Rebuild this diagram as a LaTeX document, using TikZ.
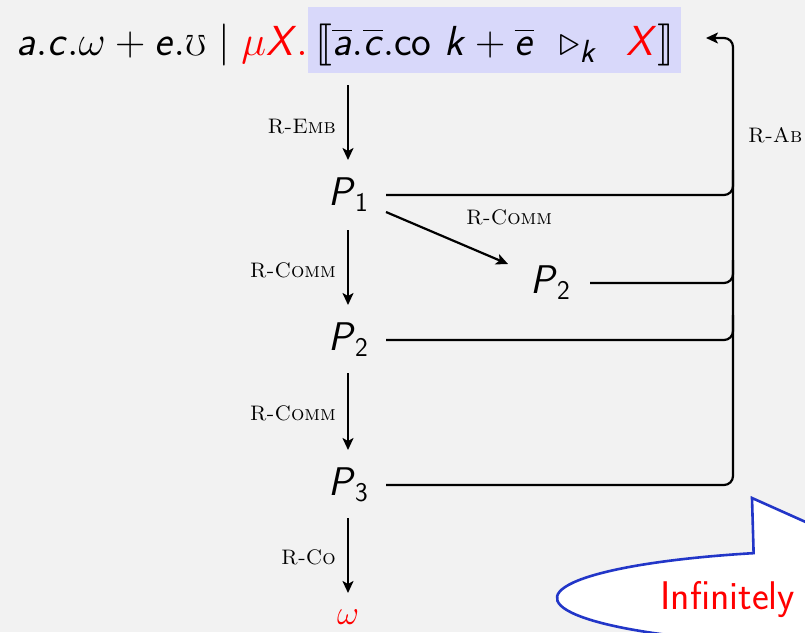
\RequirePackage{fix-cm}
\documentclass[tikz,border=0pt]{standalone}
\usepackage{amssymb}
\usepackage{stmaryrd}
\DeclareFontFamily{U}{stmry}{}
\DeclareFontShape{U}{stmry}{m}{n}{<-> stmary10}{}
\usetikzlibrary{arrows.meta,shapes.callouts}
\definecolor{bgc}{HTML}{F2F2F2}
\definecolor{hlc}{HTML}{D8D8FA}
\definecolor{cob}{HTML}{2236C8}
\newcommand{\si}[1]{\textsf{\textit{#1}}}
\newcommand{\pn}[1]{\si{P}\raisebox{-6pt}{\fontsize{27}{30}\selectfont\sffamily #1}}
\tikzset{
  proc/.style={font=\fontsize{40}{48}\selectfont, inner sep=2pt},
  rule/.style={font=\fontsize{21}{25}\selectfont, inner sep=0pt},
  arr/.style={line width=2.2pt, -{Stealth[length=12pt,width=11pt,inset=3pt]}},
  ln/.style={line width=2.2pt, rounded corners=9pt},
}
\begin{document}
\begin{tikzpicture}[x=1pt,y=-1pt]
\useasboundingbox (0,0) rectangle (805,632);
\fill[bgc] (0,0) rectangle (805,632);
\clip (0,0) rectangle (805,632);
% top formula
\node[anchor=base east, inner sep=0pt, font=\fontsize{42}{48}\selectfont] (lhs) at (308,55)
  {$\si{a}.\si{c}.\omega+\si{e}.{\scriptstyle\mho}\mid{\color{red}\mu\si{X}.}$};
\node[anchor=base west, fill=hlc, inner xsep=7pt, text depth=15pt, text height=45pt, font=\fontsize{42}{48}\selectfont] (rhs) at (lhs.base east)
  {$\llbracket\overline{\si{a}}.\overline{\si{c}}.\textsf{co}\ \si{k}+\overline{\si{e}}\ \ \mathord{\triangleright}\mbox{\raisebox{-7pt}{\fontsize{32}{34}\selectfont\sffamily\itshape k}}\ \ \,{\color{red}\si{X}}\rrbracket$};
% process nodes
\node[proc] (p1) at (348,195) {\pn{1}};
\node[proc] (p2) at (348,340) {\pn{2}};
\node[proc] (p3) at (348,485) {\pn{3}};
\node[proc] (q2) at (550,283) {\pn{2}};
\node[font=\fontsize{34}{38}\selectfont, text=red] (om) at (348,617) {$\omega$};
% vertical arrows
\coordinate (top) at (348,85);
\draw[arr] (top) -- (p1.north |- 0,160);
\draw[arr] (p1.south |- 0,230) -- (p2.north |- 0,305);
\draw[arr] (p2.south |- 0,373) -- (p3.north |- 0,450);
\draw[arr] (p3.south |- 0,518) -- (om.north |- 0,593);
\coordinate (d1) at (386,212);
\coordinate (d2) at (508,264);
\draw[arr] (d1) -- (d2);
% labels
\node[rule, anchor=east] (l1) at (336,127) {\textsc{R-Emb}};
\node[rule, anchor=east] (l2) at (336,270) {\textsc{R-Comm}};
\node[rule, anchor=east] (l3) at (336,413) {\textsc{R-Comm}};
\node[rule, anchor=east] (l4) at (336,557) {\textsc{R-Co}};
\node[rule] (l5) at (509,217) {\textsc{R-Comm}};
\node[rule, anchor=west] (l6) at (748,135) {\textsc{R-Ab}};
% back lines
\coordinate (ab) at (706,38);
\draw[ln, -{Stealth[length=12pt,width=11pt,inset=3pt]}] (386,485) -- (733,485) -- (733,38) -- (ab);
\draw[ln] (386,195) -- (733,195) -- (733,170);
\draw[ln] (590,283) -- (733,283) -- (733,260);
\draw[ln] (386,340) -- (733,340) -- (733,315);
% callout
\node[ellipse callout, draw=cob, line width=2.6pt, fill=white, minimum width=610pt, minimum height=96pt,
  callout absolute pointer={(752,498)}, callout pointer arc=22] (co) at (862,598) {};
\node[font=\fontsize{40}{44}\selectfont\sffamily, text=red, anchor=base west] (inf) at (657,609) {Infinitely};
\end{tikzpicture}
\end{document}
